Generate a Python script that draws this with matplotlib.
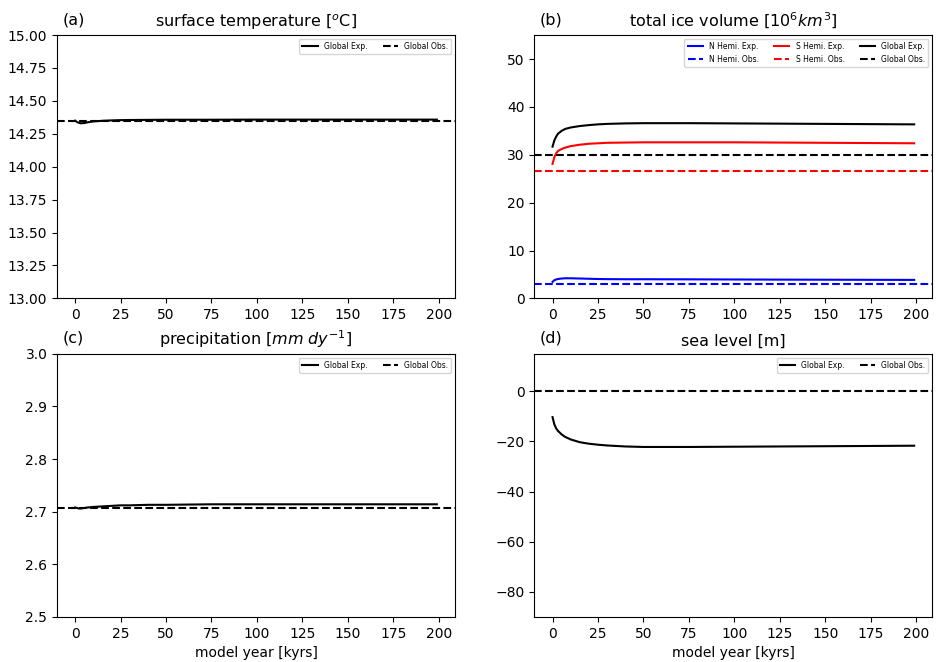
import numpy as np
import matplotlib
matplotlib.use("Agg")
import matplotlib.pyplot as plt

years = [0, 1, 2, 3, 5, 7, 10, 15, 20, 25, 30, 40, 50, 75, 100, 125, 150, 175, 199]

# (a) surface temperature
temp_exp = [14.350, 14.340, 14.334, 14.330, 14.332, 14.338, 14.344, 14.349, 14.352, 14.354,
            14.355, 14.356, 14.357, 14.357, 14.358, 14.358, 14.358, 14.358, 14.358]
temp_obs = 14.35

# (b) total ice volume
nh_exp = [3.45, 3.8, 3.95, 4.05, 4.15, 4.2, 4.2, 4.15, 4.1, 4.05, 4.02, 4.0, 4.0,
          3.98, 3.95, 3.92, 3.9, 3.88, 3.86]
sh_exp = [28.1, 29.5, 30.3, 30.8, 31.2, 31.5, 31.8, 32.1, 32.3, 32.4, 32.5, 32.55, 32.6,
          32.6, 32.6, 32.55, 32.5, 32.45, 32.4]
gl_exp = [31.7, 33.0, 33.8, 34.4, 35.0, 35.4, 35.7, 36.0, 36.2, 36.35, 36.45, 36.55, 36.6,
          36.6, 36.55, 36.5, 36.45, 36.4, 36.35]
nh_obs = 3.0
sh_obs = 26.7
gl_obs = 29.9

# (c) precipitation
prec_exp = [2.708, 2.707, 2.706, 2.706, 2.707, 2.708, 2.709, 2.710, 2.711, 2.712, 2.712,
            2.713, 2.713, 2.714, 2.714, 2.714, 2.714, 2.714, 2.714]
prec_obs = 2.7075

# (d) sea level
sl_exp = [-10.3, -13.2, -14.8, -15.8, -17.2, -18.2, -19.2, -20.3, -20.9, -21.3, -21.6,
          -22.0, -22.2, -22.2, -22.1, -22.0, -21.9, -21.8, -21.7]
sl_obs = 0.0

fig, axs = plt.subplots(2, 2, figsize=(9.36, 6.62), dpi=100)
fig.subplots_adjust(left=0.061, right=0.996, top=0.947, bottom=0.068, wspace=0.2, hspace=0.21)

leg_kw = dict(loc="upper right", fontsize=5.5)

ax = axs[0, 0]
ax.plot(years, temp_exp, "k-", lw=1.5, label="Global Exp.")
ax.axhline(temp_obs, color="k", ls="--", lw=1.5, label="Global Obs.")
ax.set_ylim(13, 15)
ax.set_title("surface temperature [$^o$C]", fontsize=11.5)
ax.legend(ncol=2, **leg_kw)

ax = axs[0, 1]
ax.plot(years, nh_exp, "b-", lw=1.5, label="N Hemi. Exp.")
ax.axhline(nh_obs, color="b", ls="--", lw=1.5, label="N Hemi. Obs.")
ax.plot(years, sh_exp, "r-", lw=1.5, label="S Hemi. Exp.")
ax.axhline(sh_obs, color="r", ls="--", lw=1.5, label="S Hemi. Obs.")
ax.plot(years, gl_exp, "k-", lw=1.5, label="Global Exp.")
ax.axhline(gl_obs, color="k", ls="--", lw=1.5, label="Global Obs.")
ax.set_ylim(0, 55)
ax.set_title("total ice volume [$10^6 km^3$]", fontsize=11.5)
ax.legend(ncol=3, **leg_kw)

ax = axs[1, 0]
ax.plot(years, prec_exp, "k-", lw=1.5, label="Global Exp.")
ax.axhline(prec_obs, color="k", ls="--", lw=1.5, label="Global Obs.")
ax.set_ylim(2.5, 3.0)
ax.set_title("precipitation [$mm\\ dy^{-1}$]", fontsize=11.5)
ax.set_xlabel("model year [kyrs]")
ax.legend(ncol=2, **leg_kw)

ax = axs[1, 1]
ax.plot(years, sl_exp, "k-", lw=1.5, label="Global Exp.")
ax.axhline(sl_obs, color="k", ls="--", lw=1.5, label="Global Obs.")
ax.set_ylim(-90, 15)
ax.set_title("sea level [m]", fontsize=11.5)
ax.set_xlabel("model year [kyrs]")
ax.legend(ncol=2, **leg_kw)

for ax, lab in zip(axs.flat, ["(a)", "(b)", "(c)", "(d)"]):
    ax.set_xticks(np.arange(0, 201, 25))
    ax.text(0.013, 1.03, lab, transform=ax.transAxes, fontsize=11.5, va="bottom")

fig.savefig("out.png")
